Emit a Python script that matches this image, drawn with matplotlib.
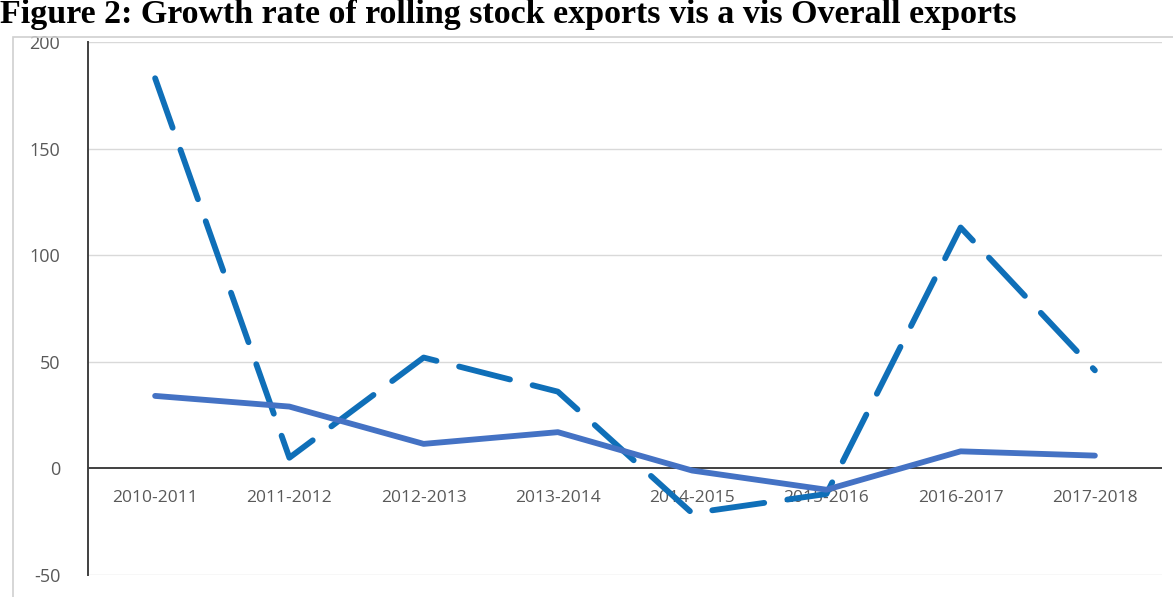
import matplotlib; matplotlib.use("Agg")
import matplotlib.pyplot as plt
from matplotlib.patches import Rectangle

years = ["2010-2011", "2011-2012", "2012-2013", "2013-2014",
         "2014-2015", "2015-2016", "2016-2017", "2017-2018"]
rolling_stock = [183, 5, 52, 36, -21, -12, 113, 46]
overall = [34, 29, 11.5, 17, -1, -10, 8, 6]
yticks = [-50, 0, 50, 100, 150, 200]

DASH, SOLID, GRID, TXT = "#0F6FB8", "#4472C4", "#D9D9D9", "#595959"

fig = plt.figure(figsize=(11.73, 5.97), dpi=100)
fig.patches.append(Rectangle((13 / 1173, -0.01), 1.0, 1 - 37 / 597 + 0.01,
                             transform=fig.transFigure, fill=False,
                             edgecolor="#D0D0D0", lw=1.2))
fig.text(0.0, 1 - 23 / 597, "Figure 2: Growth rate of rolling stock exports vis a vis Overall exports",
         fontsize=24.5, fontweight="bold", family="Liberation Serif", va="baseline", ha="left")

ax = fig.add_axes([88 / 1173, 1 - 575 / 597, (1162 - 88) / 1173, (575 - 42) / 597])
x = range(len(years))
ax.plot(x, rolling_stock, color=DASH, lw=4.2, dashes=(9, 4), dash_capstyle="round", zorder=3)
ax.plot(x, overall, color=SOLID, lw=4.2, solid_capstyle="round", zorder=3)

ax.set_xlim(-0.5, len(years) - 0.5)
ax.set_ylim(-50, 200)
ax.set_yticks(yticks)
ax.set_yticklabels([str(v) for v in yticks])
for v in yticks:
    if v != 0:
        ax.axhline(v, color=GRID, lw=1, zorder=1)
ax.axhline(0, color="#404040", lw=1.4, zorder=2)
ax.set_xticks([])
for i, lab in enumerate(years):
    ax.text(i, -14, lab, ha="center", va="center", fontsize=12.5, color=TXT,
            family="Open Sans", zorder=1)
for s in ["top", "right", "bottom"]:
    ax.spines[s].set_visible(False)
ax.spines["left"].set_color("#404040")
ax.spines["left"].set_linewidth(1.4)
ax.tick_params(axis="y", length=0, pad=20, labelsize=13, labelcolor=TXT)
for t in ax.get_yticklabels():
    t.set_family("Open Sans")

fig.savefig("out.png", dpi=100)
